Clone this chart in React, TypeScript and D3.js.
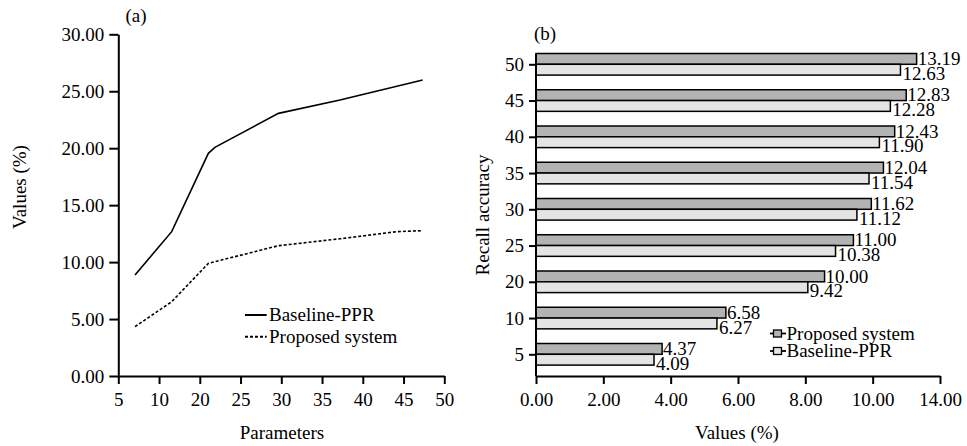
import { useEffect, useRef } from 'react';
import * as d3 from 'd3';

// (a) line chart: x positions are on the 9-slot parameter axis (0 = "5", 8 = "50")
const paramLabels = ['5', '10', '20', '25', '30', '35', '40', '45', '50'];
const baselinePos = [0.41, 1.31, 2.21, 2.37, 3.93, 5.44, 7.47];
const baselineVals = [8.87, 12.67, 19.55, 20.08, 23.06, 24.23, 25.99];
const proposedPos = [0.41, 1.31, 2.21, 3.93, 5.44, 6.83, 7.45];
const proposedVals = [4.33, 6.52, 9.89, 11.44, 12.05, 12.67, 12.76];
const leftYTicks = [0, 5, 10, 15, 20, 25, 30];

// (b) bar chart
const recallCats = ['5', '10', '20', '25', '30', '35', '40', '45', '50'];
const proposedBars = [4.37, 6.58, 10.0, 11.0, 11.62, 12.04, 12.43, 12.83, 13.19];
const baselineBars = [4.09, 6.27, 9.42, 10.38, 11.12, 11.54, 11.9, 12.28, 12.63];
const barXTickLabels = ['0.00', '2.00', '4.00', '6.00', '8.00', '10.00', '14.00'];

const FONT = '"Liberation Serif", "Times New Roman", serif';
const FS = 19;

export default function App() {
  const svgRef = useRef<SVGSVGElement | null>(null);

  useEffect(() => {
    if (!svgRef.current) return;
    const svg = d3.select(svgRef.current);
    svg.selectAll('*').remove();
    svg.attr('font-family', FONT).attr('font-size', FS);

    const styleAxis = (g: any) => {
      g.selectAll('path').attr('stroke', '#000').attr('stroke-width', 2);
      g.selectAll('line').attr('stroke', '#000').attr('stroke-width', 2);
      g.selectAll('text').attr('font-family', FONT).attr('font-size', FS).attr('fill', '#000');
    };

    // ---------- (a) ----------
    const x = d3.scaleLinear().domain([0, 8]).range([118.3, 444.3]);
    const y = d3.scaleLinear().domain([0, 30]).range([376, 34.3]);

    const a = svg.append('g');
    a.append('g')
      .attr('transform', `translate(0,${y(0)})`)
      .call(
        d3.axisBottom(x)
          .tickValues(d3.range(paramLabels.length))
          .tickFormat((d: any) => paramLabels[d])
          .tickSize(8)
          .tickSizeOuter(0)
          .tickPadding(9)
      )
      .call(styleAxis);
    a.append('g')
      .attr('transform', `translate(${x(0)},0)`)
      .call(
        d3.axisLeft(y)
          .tickValues(leftYTicks)
          .tickFormat((d: any) => d3.format('.2f')(d))
          .tickSize(9)
          .tickSizeOuter(0)
          .tickPadding(5)
      )
      .call(styleAxis);

    const line = d3
      .line<[number, number]>()
      .x((d) => x(d[0]))
      .y((d) => y(d[1]));

    a.append('path')
      .attr('d', line(baselinePos.map((p, i) => [p, baselineVals[i]]) as any))
      .attr('fill', 'none')
      .attr('stroke', '#000')
      .attr('stroke-width', 1.6);
    a.append('path')
      .attr('d', line(proposedPos.map((p, i) => [p, proposedVals[i]]) as any))
      .attr('fill', 'none')
      .attr('stroke', '#000')
      .attr('stroke-width', 1.6)
      .attr('stroke-dasharray', '3,2');

    // legend (a)
    const legA = [
      { name: 'Baseline-PPR', dash: null, y: 315 },
      { name: 'Proposed system', dash: '3,2', y: 336.7 },
    ];
    legA.forEach((l) => {
      a.append('line')
        .attr('x1', 245)
        .attr('x2', 266.7)
        .attr('y1', l.y)
        .attr('y2', l.y)
        .attr('stroke', '#000')
        .attr('stroke-width', 2)
        .attr('stroke-dasharray', l.dash);
      a.append('text').attr('x', 269).attr('y', l.y).attr('dy', '0.33em').text(l.name);
    });

    a.append('text').attr('x', 136).attr('y', 16).attr('dy', '0.33em').attr('text-anchor', 'middle').text('(a)');
    a.append('text')
      .attr('transform', 'translate(20,187) rotate(-90)')
      .attr('text-anchor', 'middle')
      .attr('dy', '0.33em')
      .text('Values (%)');
    a.append('text').attr('x', 282).attr('y', 433).attr('dy', '0.33em').attr('text-anchor', 'middle').text('Parameters');

    // ---------- (b) ----------
    const bx = d3.scaleLinear().domain([0, 14]).range([536, 940]);
    const by = d3.scalePoint<string>().domain(recallCats).range([354.3, 64.3]);
    const barH = 10.8;

    const b = svg.append('g');

    recallCats.forEach((c, i) => {
      const cy = by(c)!;
      b.append('rect')
        .attr('x', bx(0))
        .attr('y', cy - barH)
        .attr('width', bx(proposedBars[i]) - bx(0))
        .attr('height', barH)
        .attr('fill', '#b3b3b3')
        .attr('stroke', '#000')
        .attr('stroke-width', 1.5);
      b.append('rect')
        .attr('x', bx(0))
        .attr('y', cy)
        .attr('width', bx(baselineBars[i]) - bx(0))
        .attr('height', barH)
        .attr('fill', '#e4e4e4')
        .attr('stroke', '#000')
        .attr('stroke-width', 1.5);
      b.append('text')
        .attr('x', bx(proposedBars[i]) + 1)
        .attr('y', cy - barH / 2)
        .attr('dy', '0.33em')
        .text(proposedBars[i].toFixed(2));
      b.append('text')
        .attr('x', bx(baselineBars[i]) + 2)
        .attr('y', cy + barH / 2 + 4)
        .attr('dy', '0.33em')
        .text(baselineBars[i].toFixed(2));
    });

    b.append('g')
      .attr('transform', 'translate(0,376)')
      .call(
        d3.axisBottom(bx)
          .tickValues(d3.range(barXTickLabels.length).map((i) => (i * 14) / 6))
          .tickFormat((_d: any, i: number) => barXTickLabels[i])
          .tickSize(8)
          .tickSizeOuter(0)
          .tickPadding(9)
      )
      .call(styleAxis);
    const yAx = b
      .append('g')
      .attr('transform', `translate(${bx(0)},0)`)
      .call(d3.axisLeft(by).tickSize(7).tickSizeOuter(0).tickPadding(5))
      .call(styleAxis);
    yAx.select('path').attr('d', 'M0,54V376');

    // legend (b)
    const legB = [
      { name: 'Proposed system', fill: '#b3b3b3', y: 333.5 },
      { name: 'Baseline-PPR', fill: '#e4e4e4', y: 351 },
    ];
    legB.forEach((l) => {
      b.append('line')
        .attr('x1', 770)
        .attr('x2', 786)
        .attr('y1', l.y)
        .attr('y2', l.y)
        .attr('stroke', '#000')
        .attr('stroke-width', 1.8);
      b.append('rect')
        .attr('x', 773.5)
        .attr('y', l.y - 3.5)
        .attr('width', 8)
        .attr('height', 7)
        .attr('fill', l.fill)
        .attr('stroke', '#000')
        .attr('stroke-width', 1.3);
      b.append('text').attr('x', 786.5).attr('y', l.y).attr('dy', '0.33em').text(l.name);
    });

    b.append('text').attr('x', 545).attr('y', 34).attr('dy', '0.33em').attr('text-anchor', 'middle').text('(b)');
    b.append('text')
      .attr('transform', 'translate(483,215) rotate(-90)')
      .attr('text-anchor', 'middle')
      .attr('dy', '0.33em')
      .text('Recall accuracy');
    b.append('text').attr('x', 737).attr('y', 433).attr('dy', '0.33em').attr('text-anchor', 'middle').text('Values (%)');
  }, []);

  return (
    <svg
      ref={svgRef}
      width={967}
      height={446}
      style={{ position: 'absolute', left: 0, top: 0, background: '#fff' }}
    />
  );
}
